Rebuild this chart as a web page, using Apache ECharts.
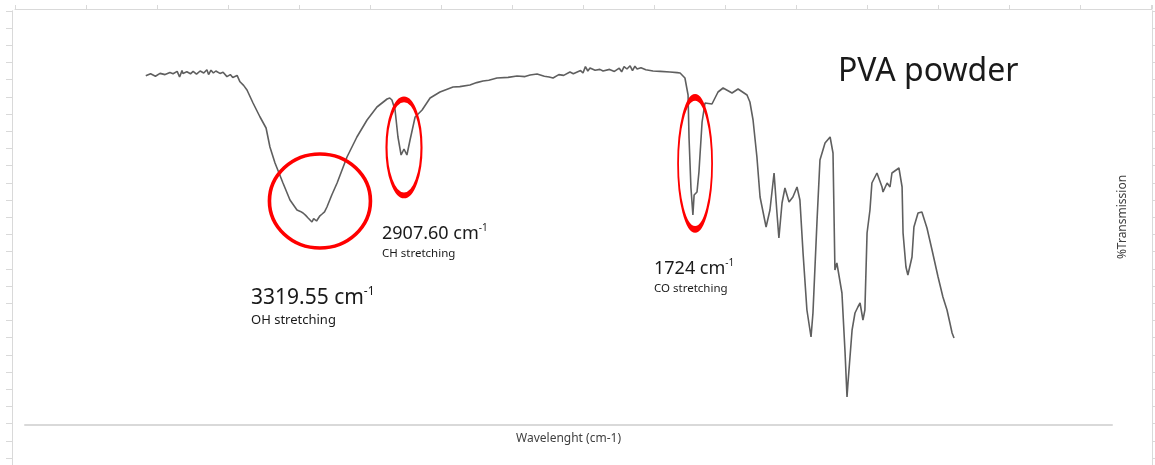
<!DOCTYPE html>
<html><head><meta charset="utf-8">
<script src="https://cdn.jsdelivr.net/npm/echarts@6/dist/echarts.min.js"></script>
<style>html,body{margin:0;padding:0;background:#fff}#c{width:1155px;height:465px}</style>
</head><body><div id="c"></div>
<script>
// Wavenumber (cm-1) and %Transmission
const wavenumbers = [4000,3980,3960,3941,3920,3900,3887,3870,3860,3850,3846,3830,3815,3804,3790,3775,3760,3747,3740,3730,3720,3710,3693,3680,3664,3650,3640,3622,3610,3595,3581,3556,3527,3502,3486,3465,3432,3403,3374,3360,3349,3338,3328,3320,3312,3305,3299,3293,3287,3279,3270,3260,3250,3230,3208,3167,3126,3084,3043,3001,2990,2981,2968,2956,2943,2931,2919,2906,2885,2856,2823,2782,2728,2700,2658,2630,2604,2580,2546,2500,2463,2430,2409,2380,2350,2330,2314,2290,2270,2244,2230,2200,2190,2180,2170,2161,2140,2120,2107,2080,2060,2040,2030,2020,2008,1995,1985,1975,1966,1950,1930,1900,1870,1830,1800,1788,1768,1755,1751,1743,1735,1730,1718,1710,1697,1685,1656,1631,1610,1573,1548,1511,1499,1486,1470,1457,1432,1416,1399,1387,1379,1366,1354,1337,1321,1304,1292,1279,1263,1246,1238,1221,1209,1188,1167,1155,1147,1139,1118,1105,1097,1093,1076,1064,1052,1043,1031,1023,1014,1002,994,973,952,948,931,919,911,882,869,865,853,845,828,820,803,787,766,745,720,700,683,671,662,654];
const transmission = [87.3,87.8,87.2,87.9,87.6,88.1,87.8,88.4,87.0,88.6,87.9,88.3,87.8,88.4,87.7,88.5,88.0,88.8,87.6,88.7,88.0,88.5,87.9,88.2,87.1,87.6,86.9,87.4,85.8,84.9,83.75,80.5,77,74.25,69.5,65.5,60.5,56.25,53.75,53.4,53,52.4,51.75,51.3,50.75,51.6,51.5,51.0,51.25,52.3,52.75,53.3,54.5,57.5,60.5,67,72,76.25,79.5,81.5,81.75,81.25,78.75,72,67.5,69,67.5,71.25,77,78.75,81.75,83.25,84.5,84.6,85,85.6,86,86.2,86.75,86.9,87.25,87.1,87.5,87.75,87.2,87.0,86.75,87.6,87.4,88.25,87.8,88.6,88.0,89.6,88.5,89.25,88.7,88.9,88.5,88.9,88.4,89.2,88.3,89.6,89.0,89.8,88.6,89.7,89.0,89.3,88.8,88.5,88.4,88.25,88.1,88.0,86.75,82.5,71.75,59.25,52.5,57.5,58.25,63.25,75.75,80.5,80.25,83.25,84.25,83,84,82.5,80.75,76.25,67,57,49.5,53.75,63,53,46.75,55.5,59.25,55.75,57,59.5,56.25,43,28.75,22,28,51.25,66.25,70.5,72,68,38.75,40.5,33,18,7,10.5,23.75,28,29.5,30.5,26.25,28.75,48,53.75,60.5,63,59.5,58.25,60.5,59.5,63,64.25,59.5,48,39.5,37.5,42,49.5,53,53.25,49.25,43.75,37,32,28.75,25.5,23,21.75];
const peakLabels = ['3319.55 cm', '2907.60 cm', '1724 cm'];
const peakNames = ['OH stretching', 'CH stretching', 'CO stretching'];
const ellipseCenters = [[3279, 56], [2931, 69.4], [1726, 65.4]];
const chartTitle = 'PVA powder';
const xTitle = 'Wavelenght (cm-1)';
const yTitle = '%Transmission';

const spectrum = wavenumbers.map((w, i) => [w, transmission[i]]);
const ellipseSizes = [[101, 94], [35, 96], [34, 132]];
const FONT = 'Noto Sans';
const frameColor = '#d9d9d9';

function peakText(i, x, y, big, small) {
  return {
    type: 'text', left: x, top: y, z: 100,
    style: {
      text: '{a|' + peakLabels[i] + '}{s|-1}\n{b|' + peakNames[i] + '}',
      rich: {
        a: {fontFamily: FONT, fontSize: big, fill: '#1a1a1a', color: '#1a1a1a', lineHeight: big + 4},
        s: {fontFamily: FONT, fontSize: Math.round(big * 0.55), fill: '#1a1a1a', color: '#1a1a1a', verticalAlign: 'top', padding: [0, 0, big * 0.55, 0]},
        b: {fontFamily: FONT, fontSize: small, fill: '#1a1a1a', color: '#1a1a1a', lineHeight: small + 6}
      }
    }
  };
}

const chart = echarts.init(document.getElementById('c'), null, {renderer: 'canvas'});
chart.setOption({
  animation: false,
  backgroundColor: '#fff',
  grid: [
    {left: 25, right: 43, top: 25, bottom: 40},
    {left: 12, right: 3, top: 10.8, bottom: 0},
    {left: 15, right: 3, top: 9, bottom: 0}
  ],
  xAxis: [
    {gridIndex: 0, type: 'value', inverse: true, min: 0, max: 4500,
     axisLine: {show: true, onZero: false, lineStyle: {color: frameColor, width: 2}},
     axisTick: {show: false}, axisLabel: {show: false}, splitLine: {show: false},
     name: xTitle, nameLocation: 'middle', nameGap: 8,
     nameTextStyle: {fontFamily: FONT, fontSize: 12, color: '#404040'}},
    {gridIndex: 1, type: 'value', show: false, min: 0, max: 1},
    {gridIndex: 2, type: 'value', position: 'top', min: 0, max: 1137, interval: 71,
     axisLine: {show: true, onZero: false, lineStyle: {color: frameColor, width: 1}},
     axisTick: {show: true, inside: false, length: 4, lineStyle: {color: frameColor}},
     axisLabel: {show: false}, splitLine: {show: false}}
  ],
  yAxis: [
    {gridIndex: 0, type: 'value', min: 0, max: 100, position: 'right',
     axisLine: {show: false, onZero: false}, axisTick: {show: false}, axisLabel: {show: false}, splitLine: {show: false},
     name: yTitle, nameLocation: 'middle', nameGap: 5, nameRotate: 90,
     nameTextStyle: {fontFamily: FONT, fontSize: 12, color: '#404040', padding: [0, 0, 0, 16]}},
    {gridIndex: 1, type: 'value', position: 'left', inverse: true, min: 0, max: 454.1, interval: 17.2,
     axisLine: {show: true, onZero: false, lineStyle: {color: frameColor, width: 1}},
     axisTick: {show: true, inside: false, length: 6, lineStyle: {color: frameColor}},
     axisLabel: {show: false}, splitLine: {show: false}},
    {gridIndex: 1, type: 'value', position: 'right', inverse: true, min: 0, max: 454.1, interval: 17.2,
     axisLine: {show: true, onZero: false, lineStyle: {color: frameColor, width: 1}},
     axisTick: {show: true, inside: false, length: 4, lineStyle: {color: frameColor}},
     axisLabel: {show: false}, splitLine: {show: false}},
    {gridIndex: 2, type: 'value', show: false, min: 0, max: 1}
  ],
  series: [
    {type: 'line', xAxisIndex: 0, yAxisIndex: 0, data: spectrum, showSymbol: false,
     lineStyle: {color: '#5f5f5f', width: 1.6}, itemStyle: {color: '#5f5f5f'}, z: 3},
    {type: 'scatter', xAxisIndex: 0, yAxisIndex: 0, z: 4,
     data: ellipseCenters.map((c, i) => ({value: c, symbolSize: ellipseSizes[i]})),
     symbol: 'circle',
     itemStyle: {color: 'rgba(0,0,0,0)', borderColor: '#ff0000', borderWidth: 3.5, opacity: 1}}
  ],
  graphic: [
    {type: 'text', left: 838, top: 56, z: 100,
     style: {text: chartTitle, fontFamily: FONT, fontSize: 32, fill: '#1a1a1a'}},
    peakText(0, 251, 286, 21, 13),
    peakText(1, 382, 223, 18, 11.5),
    peakText(2, 654, 258, 18, 11.5)
  ]
});
</script></body></html>
